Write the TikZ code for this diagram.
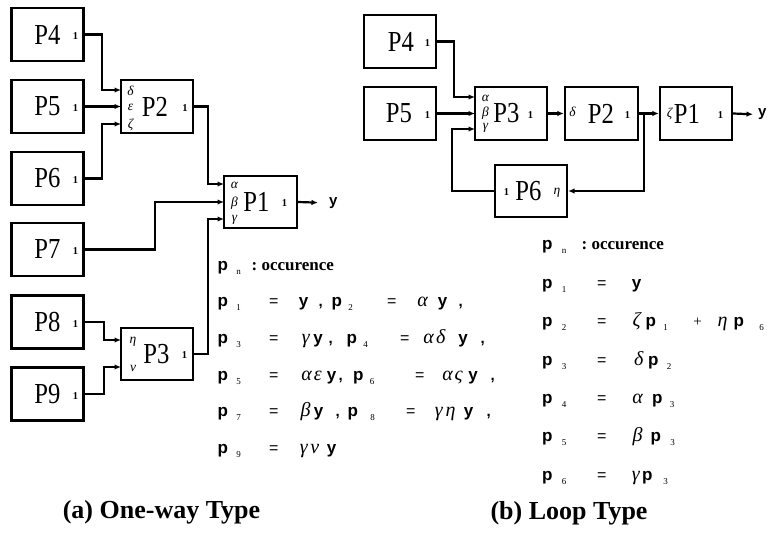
\documentclass[tikz,border=0pt]{standalone}
\usepackage{fontspec}
\setmainfont{Liberation Serif}
\newfontfamily\lblfont[FakeStretch=0.85]{Liberation Serif}
\newfontfamily\eqsans{Liberation Sans}
\usetikzlibrary{arrows.meta}
% equation tokens
\newcommand\eqT[2]{\rlap{\hspace*{#1pt}\makebox[0pt]{#2}}}
\newcommand\eqL[2]{\rlap{\hspace*{#1pt}#2}}
\newcommand\eqP{{\eqsans\bfseries\fontsize{17}{17}\selectfont p}}
\newcommand\eqY{{\eqsans\bfseries\fontsize{17}{17}\selectfont y}}
\newcommand\eqS[1]{\raisebox{-4pt}{\fontsize{9}{9}\selectfont #1}}
\newcommand\eqE{{\eqsans\fontsize{16}{16}\selectfont =}}
\newcommand\eqG[1]{{\itshape\fontsize{20}{20}\selectfont #1}}
\newcommand\eqC{{\eqsans\bfseries\fontsize{15}{15}\selectfont ,}}
\newcommand\eqO{{\bfseries\fontsize{17}{17}\selectfont :\ occurence}}
\tikzset{
  box/.style={draw, line width=2.2pt, inner sep=0pt, minimum width=72pt, minimum height=53pt},
  plbl/.style={font=\lblfont\fontsize{29}{29}\selectfont, inner sep=0pt},
  one/.style={font=\bfseries\fontsize{10.5}{10.5}\selectfont, inner sep=0pt},
  gr/.style={font=\itshape\fontsize{13.5}{13.5}\selectfont, inner sep=0pt},
  eqrow/.style={anchor=base west, inner sep=0pt},
  arr/.style={line width=2.2pt, -{Latex[length=6.5pt,width=5.5pt]}},
  ttl/.style={font=\bfseries\fontsize{26}{26}\selectfont, anchor=base, inner sep=0pt},
  outy/.style={font=\eqsans\bfseries\fontsize{15}{15}\selectfont, inner sep=0pt, anchor=west}
}
\begin{document}
\begin{tikzpicture}[x=1pt,y=-1pt]
\useasboundingbox (0,0) rectangle (767,534);
% ---------------- (a) one-way ----------------
\node[box] (P4L) at (47.5,34.5) {};
\node[box] (P5L) at (47.5,106.5) {};
\node[box] (P6L) at (47.5,178.5) {};
\node[box] (P7L) at (47.5,249.5) {};
\node[box] (P8L) at (47.5,322) {};
\node[box] (P9L) at (47.5,394) {};
\node[box] (P2L) at (157,106.5) {};
\node[box, minimum width=73pt, minimum height=52pt] (P1L) at (260.5,202) {};
\node[box, minimum height=52pt] (P3L) at (157,354) {};
\foreach \n/\y in {4/34.5,5/106.5,6/178.5,7/249.5,8/322,9/394}{
  \node[plbl] (P\n Lt) at (47.5,\y) {P\n};
  \node[one] (P\n Lo) at (75.5,\y+2) {1};
}
\node[plbl] (P2Lt) at (155,106.5) {P2};
\node[one] (P2Lo) at (185,108) {1};
\node[gr] (P2Ld) at (130.5,91) {δ};
\node[gr] (P2Le) at (130.5,107) {ε};
\node[gr] (P2Lz) at (130.5,125) {ζ};
\node[plbl] (P1Lt) at (256.5,202) {P1};
\node[one] (P1Lo) at (284.5,203.5) {1};
\node[gr] (P1La) at (234.5,185) {α};
\node[gr] (P1Lb) at (234.5,203) {β};
\node[gr] (P1Lc) at (234.5,220) {γ};
\node[plbl] (P3Lt) at (156.5,354) {P3};
\node[one] (P3Lo) at (184.5,355.5) {1};
\node[gr] (P3Lh) at (133,342) {η};
\node[gr] (P3Ln) at (133,368) {ν};
% ports
\coordinate (P2a) at (121,90);
\coordinate (P2b) at (121,106.5);
\coordinate (P2c) at (121,124);
\coordinate (P1a) at (224,184);
\coordinate (P1b) at (224,202);
\coordinate (P1c) at (224,219);
\coordinate (P3a) at (121,340);
\coordinate (P3b) at (121,367);
\draw[arr] (P4L.east) -- ++(17,0) |- (P2a);
\draw[arr] (P5L.east) -- (P2b);
\draw[arr] (P6L.east) -- ++(17,0) |- (P2c);
\draw[arr] (P2L.east) -- ++(14,0) |- (P1a);
\draw[arr] (P7L.east) -- ++(70,0) |- (P1b);
\draw[arr] (P3L.east) -- ++(14,0) |- (P1c);
\draw[arr] (P8L.east) -- ++(19,0) |- (P3a);
\draw[arr] (P9L.east) -- ++(19,0) |- (P3b);
\node[outy] (yL) at (329,203) {y};
\draw[arr, shorten >=11pt] (P1L.east) -- (yL.west);
% equations (a)
\node[eqrow] (ea0) at (200,270) {\eqT{22}{\eqP}\eqT{38}{\eqS{n}}\eqL{51}{\eqO}};
\node[eqrow] (ea1) at (200,306) {\eqT{22}{\eqP}\eqT{38}{\eqS{1}}\eqT{73}{\eqE}\eqT{103}{\eqY}\eqT{120}{\eqC}\eqT{136}{\eqP}\eqT{150}{\eqS{2}}\eqT{191}{\eqE}\eqT{222}{\eqG{α}}\eqT{242}{\eqY}\eqT{260}{\eqC}};
\node[eqrow] (ea3) at (200,343) {\eqT{22}{\eqP}\eqT{38}{\eqS{3}}\eqT{73}{\eqE}\eqT{105}{\eqG{γ}}\eqT{117.5}{\eqY}\eqT{130}{\eqC}\eqT{151}{\eqP}\eqT{165}{\eqS{4}}\eqT{204}{\eqE}\eqT{228}{\eqG{α}}\eqT{240}{\eqG{δ}}\eqT{262.5}{\eqY}\eqT{282}{\eqC}};
\node[eqrow] (ea5) at (200,380) {\eqT{22}{\eqP}\eqT{38}{\eqS{5}}\eqT{73}{\eqE}\eqT{106}{\eqG{α}}\eqT{117}{\eqG{ε}}\eqT{131}{\eqY}\eqT{140}{\eqC}\eqT{157.5}{\eqP}\eqT{171.5}{\eqS{6}}\eqT{219}{\eqE}\eqT{247}{\eqG{α}}\eqT{258}{\eqG{ς}}\eqT{272.5}{\eqY}\eqT{292}{\eqC}};
\node[eqrow] (ea7) at (200,416) {\eqT{22}{\eqP}\eqT{38}{\eqS{7}}\eqT{73}{\eqE}\eqT{105}{\eqG{β}}\eqT{118}{\eqY}\eqT{137}{\eqC}\eqT{152}{\eqP}\eqT{172}{\eqS{8}}\eqT{210}{\eqE}\eqT{238}{\eqG{γ}}\eqT{250}{\eqG{η}}\eqT{268}{\eqY}\eqT{288}{\eqC}};
\node[eqrow] (ea9) at (200,453) {\eqT{22}{\eqP}\eqT{38}{\eqS{9}}\eqT{73}{\eqE}\eqT{103}{\eqG{γ}}\eqT{114}{\eqG{ν}}\eqT{131}{\eqY}};
\node[ttl] (ta) at (161.5,518) {(a) One-way Type};
% ---------------- (b) loop ----------------
\node[box] (P4R) at (400,41.5) {};
\node[box] (P5R) at (400,113.5) {};
\node[box] (P3R) at (511,113.5) {};
\node[box, minimum width=73pt] (P2R) at (601.5,113.5) {};
\node[box] (P1R) at (696,113.5) {};
\node[box, minimum height=52pt] (P6R) at (531,191) {};
\node[plbl] (P4Rt) at (401,41.5) {P4};
\node[one] (P4Ro) at (427.5,43.5) {1};
\node[plbl] (P5Rt) at (399,113.5) {P5};
\node[one] (P5Ro) at (427.5,115.5) {1};
\node[plbl] (P3Rt) at (506.5,113.5) {P3};
\node[one] (P3Ro) at (530.5,115.5) {1};
\node[gr] (P3Ra) at (485.5,98) {α};
\node[gr] (P3Rb) at (485.5,113) {β};
\node[gr] (P3Rc) at (485.5,128) {γ};
\node[plbl] (P2Rt) at (601,113.5) {P2};
\node[one] (P2Ro) at (627.5,115.5) {1};
\node[gr] (P2Rd) at (572.5,112) {δ};
\node[plbl] (P1Rt) at (687,113.5) {P1};
\node[one] (P1Ro) at (720.5,115.5) {1};
\node[gr] (P1Rz) at (669.5,114) {ζ};
\node[plbl] (P6Rt) at (528.5,191) {P6};
\node[one] (P6Ro) at (506.5,192.5) {1};
\node[gr] (P6Rh) at (557,193) {η};
\coordinate (Q3a) at (475,97);
\coordinate (Q3b) at (475,113.5);
\coordinate (Q3c) at (475,129);
\coordinate (br) at (644,113.5);
\draw[arr] (P4R.east) -- ++(17,0) |- (Q3a);
\draw[arr] (P5R.east) -- (Q3b);
\draw[arr] (P3R.east) -- (P2R.west);
\draw[arr] (P2R.east) -- (P1R.west);
\draw[arr] (br) |- (P6R.east);
\draw[arr] (P6R.west) -- ++(-42,0) |- (Q3c);
\node[outy] (yR) at (758,114.5) {y};
\draw[arr, shorten >=5pt] (P1R.east) -- (yR.west);
% equations (b)
\node[eqrow] (eb0) at (500,250) {\eqT{46.5}{\eqP}\eqT{63.5}{\eqS{n}}\eqL{81}{\eqO}};
\node[eqrow] (eb1) at (500,288) {\eqT{46.5}{\eqP}\eqT{63.5}{\eqS{1}}\eqT{101}{\eqE}\eqT{136}{\eqY}};
\node[eqrow] (eb2) at (500,326) {\eqT{46.5}{\eqP}\eqT{63.5}{\eqS{2}}\eqT{101}{\eqE}\eqT{136}{\eqG{ζ}}\eqT{150}{\eqP}\eqT{165}{\eqS{1}}\eqT{197}{{\fontsize{15}{15}\selectfont +}}\eqT{222}{\eqG{η}}\eqT{238}{\eqP}\eqT{261}{\eqS{6}}};
\node[eqrow] (eb3) at (500,365) {\eqT{46.5}{\eqP}\eqT{63.5}{\eqS{3}}\eqT{101}{\eqE}\eqT{138}{\eqG{δ}}\eqT{152.5}{\eqP}\eqT{168.5}{\eqS{2}}};
\node[eqrow] (eb4) at (500,403) {\eqT{46.5}{\eqP}\eqT{63.5}{\eqS{4}}\eqT{101}{\eqE}\eqT{137}{\eqG{α}}\eqT{156.5}{\eqP}\eqT{171.5}{\eqS{3}}};
\node[eqrow] (eb5) at (500,441) {\eqT{46.5}{\eqP}\eqT{63.5}{\eqS{5}}\eqT{101}{\eqE}\eqT{137}{\eqG{β}}\eqT{155}{\eqP}\eqT{172}{\eqS{3}}};
\node[eqrow] (eb6) at (500,480) {\eqT{46.5}{\eqP}\eqT{63.5}{\eqS{6}}\eqT{101}{\eqE}\eqT{135}{\eqG{γ}}\eqT{146.5}{\eqP}\eqT{165}{\eqS{3}}};
\node[ttl] (tb) at (569,519) {(b) Loop Type};
\end{tikzpicture}
\end{document}
